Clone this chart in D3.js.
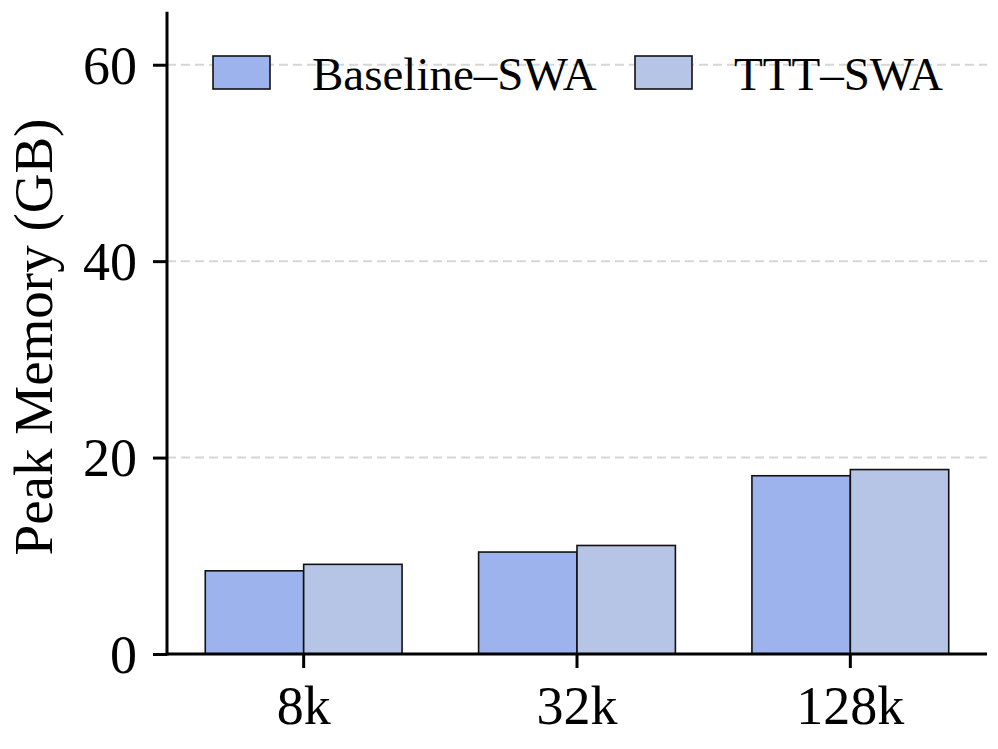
<!DOCTYPE html>
<html>
<head>
<meta charset="utf-8">
<script src="https://cdn.jsdelivr.net/npm/d3@7"></script>
<style>
  html, body { margin: 0; padding: 0; background: #fff; }
  svg { display: block; font-family: "Liberation Serif", "Times New Roman", serif; }
</style>
</head>
<body>
<svg id="chart" width="998" height="749"></svg>
<script>
const categories = ["8k", "32k", "128k"];
const seriesNames = ["Baseline–SWA", "TTT–SWA"];
const baselineValues = [8.47, 10.38, 18.15];
const tttValues = [9.13, 11.05, 18.78];
const yTicks = [0, 20, 40, 60];
const colors = ["#9db3ee", "#b6c5e5"];

const seriesValues = [baselineValues, tttValues];

const W = 998, H = 749;
const mLeft = 167, mRight = 987, mTop = 11.7, mBottom = 654;

const svg = d3.select("#chart");

const x = d3.scaleBand().domain(categories).range([mLeft, mRight])
  .paddingInner(0.28).paddingOuter(0.14);
const xs = d3.scaleBand().domain(seriesNames).range([0, x.bandwidth()]).padding(0);
const y = d3.scaleLinear().domain([0, 65.4]).range([mBottom, mTop]);

// grid
svg.append("g").selectAll("line").data(yTicks.filter(d => d > 0)).join("line")
  .attr("x1", mLeft).attr("x2", mRight)
  .attr("y1", d => y(d)).attr("y2", d => y(d))
  .attr("stroke", "#d6d6d6").attr("stroke-width", 2)
  .attr("stroke-dasharray", "9,5");

// bars
const groups = svg.append("g").selectAll("g").data(seriesNames).join("g");
groups.each(function(name, si) {
  d3.select(this).selectAll("rect").data(categories).join("rect")
    .attr("x", c => x(c) + xs(name))
    .attr("y", (c, i) => y(seriesValues[si][i]))
    .attr("width", xs.bandwidth())
    .attr("height", (c, i) => y(0) - y(seriesValues[si][i]))
    .attr("fill", colors[si])
    .attr("stroke", "#111").attr("stroke-width", 1.6);
});

// axes
const xAxis = d3.axisBottom(x).tickSize(14).tickPadding(18);
const gx = svg.append("g").attr("transform", `translate(0,${mBottom})`).call(xAxis);
gx.select(".domain").remove();
gx.append("line").attr("x1", mLeft).attr("x2", mRight).attr("y1", 0).attr("y2", 0)
  .attr("stroke", "#000").attr("stroke-width", 3);
gx.selectAll(".tick line").attr("stroke", "#000").attr("stroke-width", 3);
gx.selectAll(".tick text").attr("font-size", 54).attr("fill", "#000")
  .attr("font-family", "Liberation Serif, Times New Roman, serif");

const yAxis = d3.axisLeft(y).tickValues(yTicks).tickSize(14).tickPadding(16);
const gy = svg.append("g").attr("transform", `translate(${mLeft},0)`).call(yAxis);
gy.select(".domain").remove();
gy.append("line").attr("x1", 0).attr("x2", 0).attr("y1", mTop).attr("y2", mBottom + 1.5)
  .attr("stroke", "#000").attr("stroke-width", 3);
gy.selectAll(".tick line").attr("stroke", "#000").attr("stroke-width", 3);
gy.selectAll(".tick text").attr("font-size", 54).attr("fill", "#000")
  .attr("font-family", "Liberation Serif, Times New Roman, serif")
  .attr("dy", "0.34em");

// y label
svg.append("text")
  .attr("transform", `translate(52, 337) rotate(-90)`)
  .attr("text-anchor", "middle")
  .attr("font-size", 55).attr("fill", "#000")
  .text("Peak Memory (GB)");

// legend
const legendX = [213, 635];
const leg = svg.append("g").selectAll("g").data(seriesNames).join("g")
  .attr("transform", (d, i) => `translate(${legendX[i]}, 56)`);
leg.append("rect").attr("width", 57).attr("height", 33)
  .attr("fill", (d, i) => colors[i]).attr("stroke", "#111").attr("stroke-width", 1.6);
leg.append("text").attr("x", 99).attr("y", 34)
  .attr("font-size", 47).attr("fill", "#000")
  .text(d => d);
</script>
</body>
</html>
